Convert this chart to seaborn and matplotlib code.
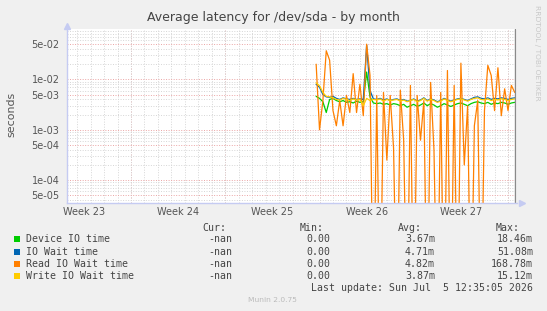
import pandas as pd
import matplotlib
matplotlib.use("Agg")
import matplotlib.pyplot as plt
import matplotlib.dates as mdates
from matplotlib.patches import Rectangle
from matplotlib.ticker import FixedLocator, LogLocator, NullFormatter
import seaborn as sns

sns.set_style("white")
plt.rcParams['font.family'] = ['DejaVu Sans']

# Data (6-hourly averages, seconds)
start_time = "2026-06-20 18:00"
device_io = [0.0046, 0.0042, 0.0036, 0.0022, 0.0040, 0.0042, 0.0038, 0.0036, 0.0038, 0.0035,
             0.0036, 0.0034, 0.0037, 0.0035, 0.0036, 0.0140, 0.0045, 0.0034, 0.0033, 0.0034,
             0.0032, 0.0033, 0.0031, 0.0033, 0.0032, 0.0030, 0.0032, 0.0028, 0.0030, 0.0032,
             0.0029, 0.0031, 0.0034, 0.0030, 0.0033, 0.0031, 0.0028, 0.0030, 0.0033, 0.0031,
             0.0029, 0.0031, 0.0033, 0.0034, 0.0032, 0.0030, 0.0033, 0.0035, 0.0036, 0.0034,
             0.0033, 0.0035, 0.0032, 0.0034, 0.0033, 0.0035, 0.0034, 0.0032, 0.0034, 0.0035]
io_wait = [0.0080, 0.0070, 0.0050, 0.0045, 0.0044, 0.0046, 0.0042, 0.0040, 0.0043, 0.0041,
           0.0040, 0.0042, 0.0040, 0.0041, 0.0040, 0.0480, 0.0060, 0.0041, 0.0040, 0.0042,
           0.0039, 0.0041, 0.0038, 0.0040, 0.0041, 0.0038, 0.0040, 0.0037, 0.0038, 0.0041,
           0.0037, 0.0039, 0.0043, 0.0038, 0.0041, 0.0039, 0.0036, 0.0038, 0.0042, 0.0039,
           0.0037, 0.0039, 0.0041, 0.0042, 0.0040, 0.0038, 0.0041, 0.0044, 0.0045, 0.0042,
           0.0041, 0.0043, 0.0040, 0.0042, 0.0041, 0.0043, 0.0042, 0.0040, 0.0042, 0.0043]
read_io_wait = [0.020, 0.0010, 0.0038, 0.037, 0.024, 0.0024, 0.0012, 0.0038, 0.0012, 0.0048,
                0.0022, 0.013, 0.0022, 0.008, 0.0019, 0.050, 0.012, 0.0, 0.0048, 0.0,
                0.0055, 0.00025, 0.0048, 0.00043, 0.0, 0.0061, 0.00062, 0.0, 0.0076, 0.0,
                0.0048, 0.00062, 0.0038, 0.0, 0.0087, 0.0004, 0.0, 0.0055, 0.0, 0.015,
                0.0, 0.0076, 0.0, 0.021, 0.0002, 0.003, 0.0, 0.0012, 0.0038, 0.0,
                0.0024, 0.019, 0.012, 0.0024, 0.017, 0.0019, 0.0065, 0.0024, 0.0076, 0.0055]
write_io_wait = [0.0085, 0.0075, 0.0055, 0.0046, 0.0045, 0.0043, 0.0040, 0.0039, 0.0042, 0.0040,
                 0.0038, 0.0041, 0.0039, 0.0040, 0.0030, 0.0042, 0.0038, 0.0040, 0.0039, 0.0041,
                 0.0037, 0.0040, 0.0038, 0.0039, 0.0040, 0.0037, 0.0039, 0.0036, 0.0038, 0.0040,
                 0.0036, 0.0038, 0.0042, 0.0037, 0.0040, 0.0038, 0.0035, 0.0037, 0.0041, 0.0038,
                 0.0036, 0.0038, 0.0040, 0.0041, 0.0039, 0.0037, 0.0040, 0.0042, 0.0043, 0.0040,
                 0.0039, 0.0041, 0.0038, 0.0040, 0.0039, 0.0041, 0.0040, 0.0038, 0.0040, 0.0041]

series_names = ["Device IO time", "IO Wait time", "Read IO Wait time", "Write IO Wait time"]
series_colors = ["#00CC00", "#0066B3", "#FF8000", "#FFCC00"]
cur_vals = ["-nan", "-nan", "-nan", "-nan"]
min_vals = ["0.00", "0.00", "0.00", "0.00"]
avg_vals = ["3.67m", "4.71m", "4.82m", "3.87m"]
max_vals = ["18.46m", "51.08m", "168.78m", "15.12m"]

week_labels = ["Week 23", "Week 24", "Week 25", "Week 26", "Week 27"]
week_centres = pd.to_datetime(["2026-06-03 12:00", "2026-06-10 12:00", "2026-06-17 12:00",
                               "2026-06-24 12:00", "2026-07-01 12:00"])
y_major = [5e-05, 1e-04, 5e-04, 1e-03, 5e-03, 1e-02, 5e-02]
last_update = pd.Timestamp("2026-07-05 12:35:05")

# Build long table
times = pd.date_range(start_time, periods=len(device_io), freq="6h")
wide = pd.DataFrame({"time": times,
                     series_names[0]: device_io,
                     series_names[1]: io_wait,
                     series_names[2]: read_io_wait,
                     series_names[3]: write_io_wait})
df = wide.melt(id_vars="time", var_name="series", value_name="value")
# zero can't be shown on a log axis, push it below the visible range
df["value"] = df["value"].clip(lower=1e-7)

fig = plt.figure(figsize=(5.47, 3.11), dpi=100, facecolor="#F0F0F0")
ax = fig.add_axes([66.5 / 547, 1 - 202.5 / 311, (517 - 66.5) / 547, (202.5 - 29) / 311])
ax.set_facecolor("white")

sns.lineplot(data=df, x="time", y="value", hue="series", hue_order=series_names,
             palette=dict(zip(series_names, series_colors)), estimator=None,
             linewidth=0.9, legend=False, ax=ax)

ax.set_yscale("log")
ax.set_ylim(3.6e-05, 0.1)
ax.set_xlim(pd.Timestamp("2026-06-02 05:00"), pd.Timestamp("2026-07-05 16:00"))

red_grid = "#EBA5A5"
grey_grid = "#D6D6D6"
dots = (0, (1, 1.6))

ax.yaxis.set_major_locator(FixedLocator(y_major))
ax.set_yticklabels([f"{v:.0e}" for v in y_major])
ax.yaxis.set_minor_locator(LogLocator(base=10, subs=(2, 3, 4, 6, 7, 8, 9), numticks=20))
ax.yaxis.set_minor_formatter(NullFormatter())
ax.grid(which="major", axis="y", color=red_grid, linestyle=dots, linewidth=0.7)
ax.grid(which="minor", axis="y", color=grey_grid, linestyle=dots, linewidth=0.7)

ax.xaxis.set_major_locator(FixedLocator(mdates.date2num(week_centres)))
ax.set_xticklabels(week_labels)
ax.xaxis.set_minor_locator(mdates.DayLocator())
ax.grid(which="minor", axis="x", color=grey_grid, linestyle=dots, linewidth=0.7)
for d in pd.date_range("2026-05-31", "2026-07-05", freq="7D"):
    ax.axvline(d, color=red_grid, linestyle=dots, linewidth=0.7, zorder=0.5)
ax.set_axisbelow(True)

ax.axvline(last_update, color="#8A8A8A", linewidth=1.0)

ax.tick_params(axis="both", which="both", length=0, labelsize=7, colors="#555555")
ax.tick_params(axis="y", pad=5)
ax.tick_params(axis="x", pad=3)
ax.set_xlabel("")
ax.set_ylabel("")

axis_col = "#C5CBF2"
for s in ["top", "right"]:
    ax.spines[s].set_visible(False)
for s in ["left", "bottom"]:
    ax.spines[s].set_color(axis_col)
    ax.spines[s].set_linewidth(1.0)
ax.plot([0], [1.02], marker="^", color=axis_col, markersize=5, transform=ax.transAxes, clip_on=False)
ax.plot([1.012], [0], marker=">", color=axis_col, markersize=5, transform=ax.transAxes, clip_on=False)

# Titles and side texts
fig.text(273.5 / 547, 1 - 18 / 311, "Average latency for /dev/sda - by month",
         ha="center", va="center", fontsize=9, color="#444444")
fig.text(11.5 / 547, 1 - 114 / 311, "seconds", rotation=90, ha="center", va="center",
         fontsize=7.9, color="#555555")
fig.text(537 / 547, 1 - 5 / 311, "RRDTOOL / TOBI OETIKER", rotation=270, ha="center", va="top",
         fontsize=5.4, color="#C8C8C8")
fig.text(272.7 / 547, 1 - 300.5 / 311, "Munin 2.0.75", ha="center", va="center",
         fontsize=5.4, color="#BBBBBB")

# Legend table
mono = dict(family="DejaVu Sans Mono", fontsize=7.1, color="#444444", va="center")
header_y = 228.3
for txt, xr in zip(["Cur:", "Min:", "Avg:", "Max:"], [226, 324, 422, 520]):
    fig.text(xr / 547, 1 - header_y / 311, txt, ha="right", **mono)
row_y = [239.3, 251.7, 263.7, 275.7]
for i, name in enumerate(series_names):
    y = 1 - row_y[i] / 311
    fig.patches.append(Rectangle((14 / 547, y - 3 / 311), 6 / 547, 6 / 311,
                                 transform=fig.transFigure, facecolor=series_colors[i],
                                 edgecolor=series_colors[i], linewidth=0))
    fig.text(26 / 547, y, name, ha="left", **mono)
    for val, xr in zip([cur_vals[i], min_vals[i], avg_vals[i], max_vals[i]], [232, 330, 435, 533]):
        fig.text(xr / 547, y, val, ha="right", **mono)
fig.text(533 / 547, 1 - 287.7 / 311, "Last update: Sun Jul  5 12:35:05 2026", ha="right", **mono)

fig.savefig("out.png", dpi=100, facecolor=fig.get_facecolor())
